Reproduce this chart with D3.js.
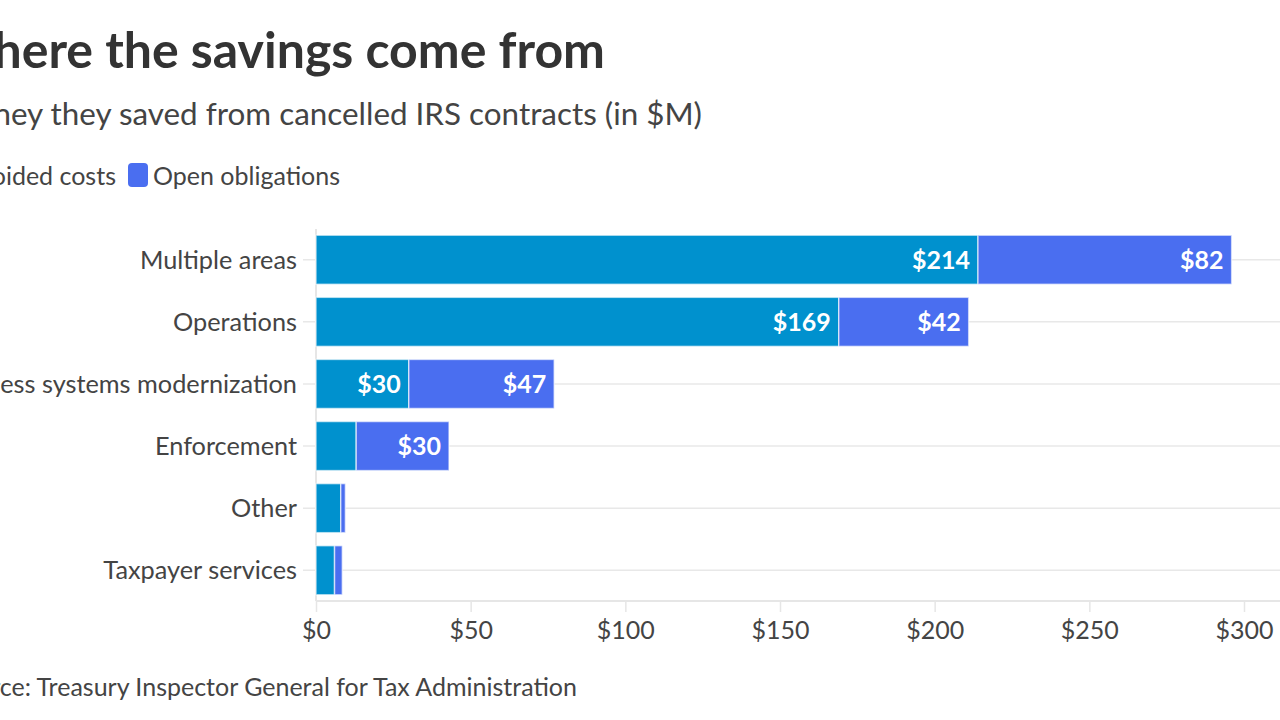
<!DOCTYPE html>
<html lang="en">
<head>
<meta charset="UTF-8">
<title>Where the savings come from</title>
<script src="https://cdnjs.cloudflare.com/ajax/libs/d3/7.8.5/d3.min.js"></script>
<style>
  body { margin: 0; background: #fff; overflow: hidden; }
  svg { display: block; font-family: Lato, "Open Sans", sans-serif; }
</style>
</head>
<body>
<div id="chart"></div>
<script>
// data
const categories = ["Multiple areas", "Operations", "Business systems modernization", "Enforcement", "Other", "Taxpayer services"];
const avoidedCosts = [214, 169, 30, 13, 8, 6];
const openObligations = [82, 42, 47, 30, 1.5, 2.5];
const seriesNames = ["Avoided costs", "Open obligations"];
const xTicks = [0, 50, 100, 150, 200, 250, 300];

const colors = ["#0091ce", "#4a6ef0"];
const W = 1280, H = 720;

const svg = d3.select("#chart").append("svg").attr("width", W).attr("height", H);

// titles (the picture is cropped on the left, so right-anchor them)
svg.append("text").attr("x", 605).attr("y", 68).attr("text-anchor", "end")
  .attr("font-size", 50).attr("font-weight", 700).attr("fill", "#333")
  .text("Where the savings come from");
svg.append("text").attr("x", 702).attr("y", 125).attr("text-anchor", "end")
  .attr("font-size", 31.4).attr("fill", "#444")
  .text("Money they saved from cancelled IRS contracts (in $M)");

// legend
const leg = svg.append("g");
leg.append("text").attr("x", 116).attr("y", 185).attr("text-anchor", "end")
  .attr("font-size", 25).attr("fill", "#444").text(seriesNames[0]);
leg.append("rect").attr("x", -30).attr("y", 163).attr("width", 20).attr("height", 24).attr("rx", 4)
  .attr("fill", colors[0]);
leg.append("rect").attr("x", 128).attr("y", 163).attr("width", 20).attr("height", 24).attr("rx", 4)
  .attr("fill", colors[1]);
leg.append("text").attr("x", 153).attr("y", 185)
  .attr("font-size", 25).attr("fill", "#444").text(seriesNames[1]);

const x = d3.scaleLinear().domain([0, 300]).range([316, 1244]);
const y = d3.scaleBand().domain(categories).range([229, 601]).paddingInner(0.21).paddingOuter(0.1);

// gridlines at row centres
svg.append("g").selectAll("line").data(categories).join("line")
  .attr("x1", 303).attr("x2", W)
  .attr("y1", d => y(d) + y.bandwidth() / 2).attr("y2", d => y(d) + y.bandwidth() / 2)
  .attr("stroke", "#e8e8e8").attr("stroke-width", 1.5);

// x axis
const xAxis = svg.append("g").attr("transform", "translate(0,601)")
  .call(d3.axisBottom(x).tickValues(xTicks).tickSize(11).tickFormat(d => "$" + d));
xAxis.select(".domain").attr("stroke", "#e6e6e6").attr("stroke-width", 2).attr("d", "M316,0H1280");
xAxis.selectAll(".tick line").attr("stroke", "#e6e6e6").attr("stroke-width", 1.5);
xAxis.selectAll(".tick text").attr("font-size", 25).attr("fill", "#444").attr("font-family", "Lato").attr("dy", "0.95em");

// y-axis line
svg.append("line").attr("x1", 316).attr("x2", 316).attr("y1", 229).attr("y2", 601)
  .attr("stroke", "#e6e6e6").attr("stroke-width", 2);

// category labels
svg.append("g").selectAll("text").data(categories).join("text")
  .attr("x", 297).attr("y", d => y(d) + y.bandwidth() / 2).attr("dy", "0.35em")
  .attr("text-anchor", "end").attr("font-size", 25.3).attr("fill", "#444").text(d => d);

// stacked bars
const rows = categories.map((c, i) => ({ cat: c, a: avoidedCosts[i], o: openObligations[i] }));
const stack = d3.stack().keys(["a", "o"])(rows);

const groups = svg.append("g").selectAll("g").data(stack).join("g")
  .attr("fill", (d, i) => colors[i]);
groups.selectAll("rect").data(d => d).join("rect")
  .attr("x", d => x(d[0]))
  .attr("y", d => y(d.data.cat))
  .attr("width", d => x(d[1]) - x(d[0]))
  .attr("height", y.bandwidth())
  .attr("stroke", "#fff").attr("stroke-opacity", 0.6).attr("stroke-width", 1.5);

// value labels
groups.selectAll("text").data(d => d.filter(s => x(s[1]) - x(s[0]) > 60)).join("text")
  .attr("x", d => x(d[1]) - 8)
  .attr("y", d => y(d.data.cat) + y.bandwidth() / 2).attr("dy", "0.36em")
  .attr("text-anchor", "end").attr("font-size", 25).attr("font-weight", 700).attr("fill", "#fff")
  .text(d => "$" + Math.round(d[1] - d[0]));

// source
svg.append("text").attr("x", 577).attr("y", 696).attr("text-anchor", "end")
  .attr("font-size", 25).attr("fill", "#444")
  .text("Source: Treasury Inspector General for Tax Administration");
</script>
</body>
</html>
